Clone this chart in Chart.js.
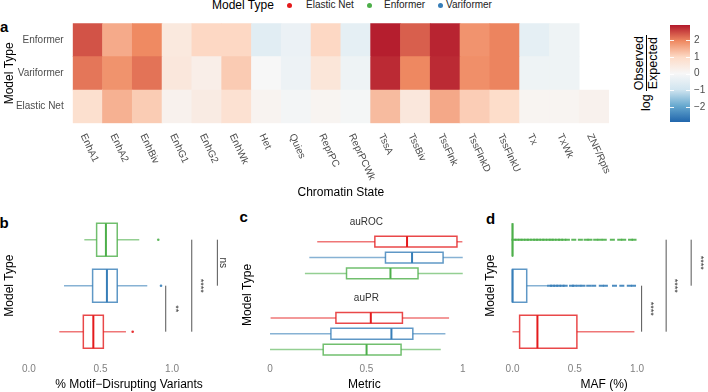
<!DOCTYPE html>
<html>
<head>
<meta charset="utf-8">
<script src="https://cdn.jsdelivr.net/npm/chart.js@4.4.0/dist/chart.umd.min.js"></script>
<style>
  body { margin: 0; width: 708px; height: 392px; overflow: hidden; position: relative; background: #fff;
         font-family: "Liberation Sans", Arial, sans-serif; color: #000; }
  canvas { position: absolute; }
  .abs { position: absolute; white-space: nowrap; }
  .letter { position: absolute; font-weight: bold; font-size: 15px; line-height: 15px; }
  .dot { position: absolute; width: 5px; height: 5px; border-radius: 50%; }
</style>
</head>
<body>
<!-- panel letters -->
<div class="letter" style="left:0px;top:19px">a</div>
<div class="letter" style="left:-0.5px;top:215px">b</div>
<div class="letter" style="left:239.5px;top:209px">c</div>
<div class="letter" style="left:486px;top:210.5px">d</div>

<!-- legend -->
<div class="abs" style="left:212px;top:-2px;font-size:12px">Model Type</div>
<div class="dot" style="left:287px;top:3px;background:#E41A1C"></div>
<div class="abs" style="left:306px;top:-1px;font-size:10px;color:#222">Elastic Net</div>
<div class="dot" style="left:367px;top:3px;background:#4DAF4A"></div>
<div class="abs" style="left:384px;top:-1px;font-size:10px;color:#222">Enformer</div>
<div class="dot" style="left:438px;top:3px;background:#377EB8"></div>
<div class="abs" style="left:446px;top:-1px;font-size:10px;color:#222">Variformer</div>

<!-- colorbar title -->
<div class="abs" style="left:607px;top:58.5px;width:78px;height:28px;transform:rotate(-90deg);transform-origin:center;
     display:flex;align-items:center;justify-content:center;font-size:12.5px">
  <span style="margin-right:3px">log</span>
  <span style="display:inline-flex;flex-direction:column;align-items:center;line-height:13px">
    <span style="border-bottom:1px solid #000;padding:0 1px">Observed</span>
    <span>Expected</span>
  </span>
</div>

<canvas id="heat" width="620" height="200" style="left:0;top:0"></canvas>
<canvas id="cbar" width="48" height="120" style="left:660px;top:15px"></canvas>
<canvas id="motif" width="240" height="196" style="left:0;top:196px"></canvas>
<canvas id="metric" width="230" height="196" style="left:240px;top:196px"></canvas>
<canvas id="maf" width="238" height="196" style="left:470px;top:196px"></canvas>

<script>
// ---- data ----
const states = ['EnhA1', 'EnhA2', 'EnhBiv', 'EnhG1', 'EnhG2', 'EnhWk', 'Het', 'Quies', 'ReprPC', 'ReprPCWk',
                'TssA', 'TssBiv', 'TssFlnk', 'TssFlnkD', 'TssFlnkU', 'Tx', 'TxWk', 'ZNF/Rpts'];
const heatEnformer   = [2.4, 1.55, 1.93, 0.5, 1.0, 1.0, -0.56, -0.31, 1.0, -0.45,
                        2.85, 2.3, 2.8, 1.82, 1.98, -0.45, -0.22, null];
const heatVariformer = [2.1, 1.83, 2.13, 0.55, 0.3, 1.16, 0.0, -0.25, 0.6, -0.22,
                        2.75, 1.95, 2.75, 1.87, 1.98, -0.22, -0.22, null];
const heatElastic    = [0.8, 1.47, 1.15, 0.2, 0.4, 0.75, 0.15, -0.1, 0.12, -0.08,
                        1.35, 0.55, 1.57, 1.13, 0.9, 0.12, 0.12, 0.2];
const colorbarTicks = [-2, -1, 0, 1, 2];

// panel b: [low whisker, q1, median, q3, high whisker]
const motifElastic    = [0.212, 0.380, 0.450, 0.520, 0.678];
const motifVariformer = [0.245, 0.445, 0.545, 0.617, 0.827];
const motifEnformer   = [0.387, 0.473, 0.538, 0.617, 0.771];
const motifOutElastic = [0.725];
const motifOutVariformer = [0.923];
const motifOutEnformer = [0.904];
const motifSigX = [0.956, 1.138, 1.317];
const motifSigFrom = [1, 1, 2];
const motifSigTo = [2, 3, 3];
const motifSigLabelX = [1.026, 1.196, 1.357];
const motifSigLabels = ['**', '****', 'ns'];

// panel c
const rocElastic    = [0.245, 0.544, 0.711, 0.970, 0.998];
const rocVariformer = [0.204, 0.599, 0.737, 0.898, 1.0];
const rocEnformer   = [0.181, 0.397, 0.625, 0.768, 1.0];
const prElastic     = [0.003, 0.342, 0.523, 0.687, 0.929];
const prVariformer  = [0.0, 0.316, 0.630, 0.741, 0.910];
const prEnformer    = [0.0, 0.276, 0.501, 0.680, 0.886];

// panel d
const mafElastic    = [0.0, 0.057, 0.200, 0.517, 0.979];
const mafVariformer = [0.0, 0.0, 0.0, 0.114, 0.283];
const mafEnformer   = [0.0, 0.0, 0.0, 0.0, 0.0];
const mafOutVariformer = [0.298, 0.322, 0.347, 0.371, 0.398, 0.423, 0.474, 0.497, 0.533, 0.566,
                          0.612, 0.652, 0.713, 0.746, 0.819, 0.878, 0.938, 0.972];
const mafOutEnformer = [0.012, 0.036, 0.061, 0.084, 0.111, 0.134, 0.162, 0.186, 0.209, 0.236, 0.259,
                        0.287, 0.311, 0.333, 0.362, 0.386, 0.412, 0.441, 0.492, 0.545, 0.591, 0.622,
                        0.668, 0.702, 0.737, 0.802, 0.861, 0.893, 0.948, 0.976];
const mafSigX = [1.037, 1.234, 1.435];
const mafSigFrom = [1, 1, 2];
const mafSigTo = [2, 3, 3];
const mafSigLabelX = [1.109, 1.304, 1.507];
const mafSigLabels = ['****', '****', '****'];

// ---- helpers ----
Chart.defaults.font.family = '"Liberation Sans", Arial, sans-serif';

const RED = [228, 26, 28], GREEN = [77, 175, 74], BLUE = [55, 126, 184];
const rgba = (c, a) => `rgba(${c[0]},${c[1]},${c[2]},${a})`;

const rdbu = ['#2166AC', '#67A9CF', '#D1E5F0', '#F7F7F7', '#FDDBC7', '#EF8A62', '#B2182B'];
const LIMIT = 2.9;
function hexRgb(h) { return [1, 3, 5].map(i => parseInt(h.substr(i, 2), 16)); }
function heatColor(v) {
  let t = (v + LIMIT) / (2 * LIMIT) * (rdbu.length - 1);
  t = Math.max(0, Math.min(rdbu.length - 1, t));
  const i = Math.min(Math.floor(t), rdbu.length - 2), f = t - i;
  const a = hexRgb(rdbu[i]), b = hexRgb(rdbu[i + 1]);
  return `rgb(${a.map((x, k) => Math.round(x + (b[k] - x) * f)).join(',')})`;
}

// text in data coordinates
function textPlugin(items) {
  return {
    id: 'txt',
    afterDatasetsDraw(chart) {
      const c = chart.ctx, xs = chart.scales.x, ys = chart.scales.y;
      items.forEach(t => {
        c.save();
        c.translate(xs.getPixelForValue(t.x), ys.getPixelForValue(t.y));
        c.rotate((t.rot || 0) * Math.PI / 180);
        c.font = t.font;
        c.fillStyle = t.color || '#333';
        c.textAlign = 'center';
        c.textBaseline = 'middle';
        c.fillText(t.text, 0, 0);
        c.restore();
      });
    }
  };
}

function seg(data, color, w, cap) {
  return { data, showLine: true, borderColor: color, borderWidth: w, pointRadius: 0, fill: false,
           borderCapStyle: cap || 'butt', borderJoinStyle: 'miter' };
}

function boxSets(s, y, h, col) {
  const [lo, q1, med, q3, hi] = s;
  return [
    seg([{x: lo, y}, {x: q1, y}], rgba(col, 0.6), 1.5),
    seg([{x: q3, y}, {x: hi, y}], rgba(col, 0.6), 1.5),
    seg([{x: q1, y: y - h}, {x: q3, y: y - h}, {x: q3, y: y + h}, {x: q1, y: y + h}, {x: q1, y: y - h}],
        rgba(col, 0.8), 1.5, 'square'),
    seg([{x: med, y: y - h}, {x: med, y: y + h}], rgba(col, 1), 2)
  ];
}

function outlierSet(vals, y, col, style, r) {
  return { data: vals.map(x => ({x, y})), showLine: false, pointStyle: style, pointRadius: r,
           pointBackgroundColor: rgba(col, 0.9), pointBorderColor: rgba(col, 0.9),
           pointBorderWidth: style === 'line' ? 2 : 0 };
}

function sigSets(xs, from, to) {
  return xs.map((x, i) => seg([{x, y: from[i]}, {x, y: to[i]}], '#555', 1));
}

function boxOptions(o) {
  return {
    responsive: false, animation: false, events: [],
    layout: { padding: { top: o.padTop, right: o.padRight, left: 0, bottom: 0 } },
    plugins: { legend: { display: false }, tooltip: { enabled: false } },
    scales: {
      x: {
        type: 'linear', min: o.xMin, max: o.xMax,
        grid: { display: false, drawTicks: false }, border: { display: false },
        afterBuildTicks: s => { s.ticks = o.xTicks.map(v => ({value: v})); },
        ticks: { color: '#808080', font: { size: 10 }, padding: 4, callback: o.fmt },
        title: { display: true, text: o.xTitle, color: '#000', font: { size: 12 }, padding: { top: 0, bottom: 0 } },
        afterFit: s => { s.height = 32.7; }
      },
      y: {
        type: 'linear', min: o.yMin, max: o.yMax, reverse: !!o.reverse,
        grid: { display: false, drawTicks: false }, border: { display: false },
        ticks: { display: false },
        title: { display: true, text: 'Model Type', color: '#000', font: { size: 12 }, padding: { top: o.titlePad, bottom: 0 } },
        afterFit: s => { s.width = o.yWidth; }
      }
    }
  };
}

// ---- panel a: heatmap ----
const rowLabel = { '0.5': 'Elastic Net', '1.5': 'Variformer', '2.5': 'Enformer' };
const heatRows = [heatElastic, heatVariformer, heatEnformer];
const heatSets = heatRows.map((vals, r) => ({
  data: vals.map(v => v == null ? null : [r, r + 1]),
  backgroundColor: vals.map(v => v == null ? 'rgba(0,0,0,0)' : heatColor(v)),
  grouped: false, barPercentage: 1, categoryPercentage: 1, borderWidth: 0
}));

const stateLabels = {
  id: 'stateLabels',
  afterDraw(chart) {
    const s = chart.scales.x, c = chart.ctx;
    c.save();
    c.font = '10px "Liberation Sans", Arial, sans-serif';
    c.fillStyle = '#4d4d4d';
    c.textAlign = 'left';
    c.textBaseline = 'top';
    states.forEach((t, i) => {
      c.save();
      c.translate(s.getPixelForValue(i), s.top + 9);
      c.rotate(65 * Math.PI / 180);
      c.fillText(t, 0, 0);
      c.restore();
    });
    c.restore();
  }
};

new Chart(document.getElementById('heat'), {
  type: 'bar',
  data: { labels: states, datasets: heatSets },
  options: {
    responsive: false, animation: false, events: [],
    layout: { padding: { top: 23.3, right: 11, left: 0, bottom: 0 } },
    plugins: { legend: { display: false }, tooltip: { enabled: false } },
    scales: {
      x: {
        grid: { display: false, drawTicks: false }, border: { display: false },
        ticks: { display: false },
        title: { display: true, text: 'Chromatin State', color: '#000', font: { size: 12 }, padding: { top: 0, bottom: 0 } },
        afterFit: s => { s.height = 76.7; }
      },
      y: {
        min: 0, max: 3,
        grid: { display: false, drawTicks: false }, border: { display: false },
        afterBuildTicks: s => { s.ticks = [0.5, 1.5, 2.5].map(v => ({value: v})); },
        ticks: { color: '#4d4d4d', font: { size: 10 }, padding: 9, callback: v => rowLabel[v] },
        title: { display: true, text: 'Model Type', color: '#000', font: { size: 12 }, padding: { top: 2, bottom: 0 } },
        afterFit: s => { s.width = 72.7; }
      }
    }
  },
  plugins: [stateLabels]
});

// ---- colour bar ----
const cbarTickMarks = {
  id: 'cbarTicks',
  afterDatasetsDraw(chart) {
    const c = chart.ctx, a = chart.chartArea, ys = chart.scales.y;
    c.save();
    c.strokeStyle = 'rgba(255,255,255,0.9)';
    c.lineWidth = 1;
    colorbarTicks.forEach(v => {
      const y = Math.round(ys.getPixelForValue(v)) + 0.5;
      c.beginPath();
      c.moveTo(a.left, y); c.lineTo(a.left + 4, y);
      c.moveTo(a.right - 4, y); c.lineTo(a.right, y);
      c.stroke();
    });
    c.restore();
  }
};

new Chart(document.getElementById('cbar'), {
  type: 'bar',
  data: {
    labels: [''],
    datasets: [{
      data: [[-LIMIT, LIMIT]], barPercentage: 1, categoryPercentage: 1, borderWidth: 0,
      backgroundColor: ctx => {
        const a = ctx.chart.chartArea;
        if (!a) return null;
        const g = ctx.chart.ctx.createLinearGradient(0, a.bottom, 0, a.top);
        rdbu.forEach((col, i) => g.addColorStop(i / (rdbu.length - 1), col));
        return g;
      }
    }]
  },
  options: {
    responsive: false, animation: false, events: [],
    layout: { padding: { top: 10, right: 0, left: 10, bottom: 13 } },
    plugins: { legend: { display: false }, tooltip: { enabled: false } },
    scales: {
      x: { display: false },
      y: {
        position: 'right', min: -LIMIT, max: LIMIT,
        grid: { display: false, drawTicks: false }, border: { display: false },
        afterBuildTicks: s => { s.ticks = colorbarTicks.map(v => ({value: v})); },
        ticks: { color: '#4d4d4d', font: { size: 10 }, padding: 4,
                 callback: v => v < 0 ? '\u2212' + Math.abs(v) : String(v) },
        afterFit: s => { s.width = 18; }
      }
    }
  },
  plugins: [cbarTickMarks]
});

// ---- panel b ----
const H = 0.36;
new Chart(document.getElementById('motif'), {
  type: 'scatter',
  data: {
    datasets: [
      ...boxSets(motifElastic, 1, H, RED),
      ...boxSets(motifVariformer, 2, H, BLUE),
      ...boxSets(motifEnformer, 3, H, GREEN),
      outlierSet(motifOutElastic, 1, RED, 'circle', 1.3),
      outlierSet(motifOutVariformer, 2, BLUE, 'circle', 1.3),
      outlierSet(motifOutEnformer, 3, GREEN, 'circle', 1.3),
      ...sigSets(motifSigX, motifSigFrom, motifSigTo)
    ]
  },
  options: boxOptions({
    padTop: 16.1, padRight: 7.9, xMin: -0.02, xMax: 1.42, yMin: 0.4, yMax: 3.6,
    xTicks: [0, 0.5, 1], fmt: v => v.toFixed(1), xTitle: '% Motif\u2212Disrupting Variants',
    titlePad: 2.8, yWidth: 26.1
  }),
  plugins: [textPlugin(motifSigLabels.map((t, i) => ({
    x: motifSigLabelX[i], y: (motifSigFrom[i] + motifSigTo[i]) / 2, text: t, rot: 90,
    font: (t === 'ns' ? '10px' : '9px') + ' "Liberation Sans", Arial, sans-serif'
  })))]
});

// ---- panel c ----
const HC = 0.34;
const prShift = 4.8;
new Chart(document.getElementById('metric'), {
  type: 'scatter',
  data: {
    datasets: [
      ...boxSets(rocElastic, 1, HC, RED),
      ...boxSets(rocVariformer, 2, HC, BLUE),
      ...boxSets(rocEnformer, 3, HC, GREEN),
      ...boxSets(prElastic, 1 + prShift, HC, RED),
      ...boxSets(prVariformer, 2 + prShift, HC, BLUE),
      ...boxSets(prEnformer, 3 + prShift, HC, GREEN)
    ]
  },
  options: boxOptions({
    padTop: 34.6, padRight: 3.4, xMin: -0.04, xMax: 1.02, yMin: 0.3, yMax: 8.41, reverse: true,
    xTicks: [0, 0.5, 1], fmt: v => String(v), xTitle: 'Metric',
    titlePad: 0, yWidth: 22.3
  }),
  plugins: [textPlugin([
    { x: 0.5, y: -0.22, text: 'auROC', font: '10px "Liberation Sans", Arial, sans-serif' },
    { x: 0.5, y: 1 + prShift - 1.22, text: 'auPR', font: '10px "Liberation Sans", Arial, sans-serif' }
  ])]
});

// ---- panel d ----
new Chart(document.getElementById('maf'), {
  type: 'scatter',
  data: {
    datasets: [
      ...boxSets(mafElastic, 1, H, RED),
      outlierSet(mafOutVariformer, 2, BLUE, 'line', 2.5),
      outlierSet(mafOutEnformer, 3, GREEN, 'line', 2.5),
      ...boxSets(mafVariformer, 2, H, BLUE),
      ...boxSets(mafEnformer, 3, H, GREEN),
      ...sigSets(mafSigX, mafSigFrom, mafSigTo)
    ]
  },
  options: boxOptions({
    padTop: 16.1, padRight: 0, xMin: -0.05, xMax: 1.522, yMin: 0.4, yMax: 3.6,
    xTicks: [0, 0.5, 1], fmt: v => v.toFixed(1), xTitle: 'MAF (%)',
    titlePad: 13.5, yWidth: 36.3
  }),
  plugins: [textPlugin(mafSigLabels.map((t, i) => ({
    x: mafSigLabelX[i], y: (mafSigFrom[i] + mafSigTo[i]) / 2, text: t, rot: 90,
    font: '9px "Liberation Sans", Arial, sans-serif'
  })))]
});
</script>
</body>
</html>
